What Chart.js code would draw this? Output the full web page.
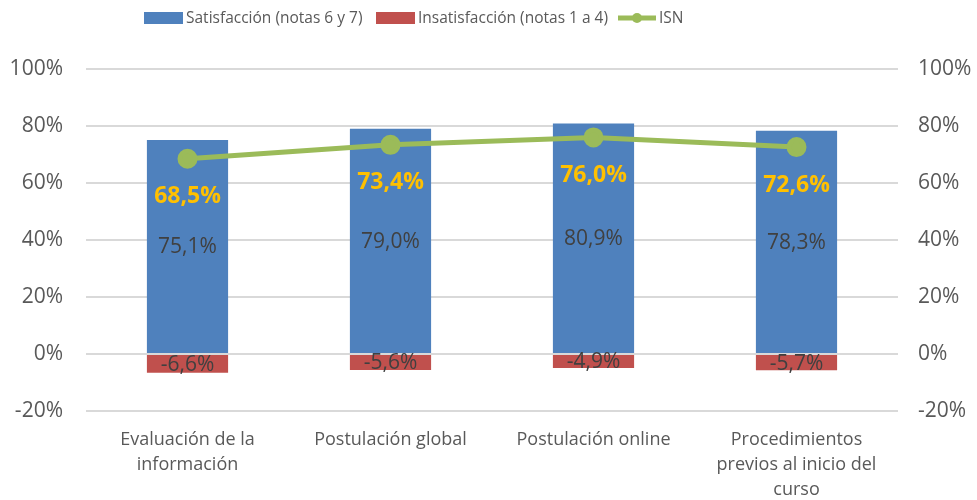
<!DOCTYPE html>
<html>
<head>
<meta charset="utf-8">
<script src="https://cdn.jsdelivr.net/npm/chart.js@4.4.0/dist/chart.umd.min.js"></script>
<style>
  html, body { margin: 0; padding: 0; background: #fff; }
  #wrap { width: 977px; height: 500px; }
</style>
</head>
<body>
<div id="wrap"><canvas id="grafico"></canvas></div>
<script>
// === Datos ===
const categorias = [
    ["Evaluación de la", "información"],
    ["Postulación global"],
    ["Postulación online"],
    ["Procedimientos", "previos al inicio del", "curso"]
];
const satisfaccion = [75.1, 79.0, 80.9, 78.3];
const insatisfaccion = [-6.6, -5.6, -4.9, -5.7];
const isn = [68.5, 73.4, 76.0, 72.6];
const ticksY = [-20, 0, 20, 40, 60, 80, 100];

const FUENTE = '"Open Sans", sans-serif';
const AZUL = '#4F81BD', ROJO = '#C0504D', VERDE = '#9BBB59';
const GRIS = '#595959';

function formatoPct(v) {
    return v.toFixed(1).replace('.', ',') + '%';
}

// === Leyenda propia (estilo Excel) ===
const leyenda = {
    id: 'leyenda',
    afterDraw(chart) {
        const ctx = chart.ctx;
        const items = [
            { tipo: 'rect', color: AZUL, texto: 'Satisfacción (notas 6 y 7)', x: 144 },
            { tipo: 'rect', color: ROJO, texto: 'Insatisfacción (notas 1 a 4)', x: 376 },
            { tipo: 'linea', color: VERDE, texto: 'ISN', x: 618 }
        ];
        const y = 18;
        ctx.save();
        ctx.font = '15.5px ' + FUENTE;
        ctx.textBaseline = 'middle';
        items.forEach(it => {
            let x = it.x;
            if (it.tipo === 'rect') {
                ctx.fillStyle = it.color;
                ctx.fillRect(x, y - 6, 39, 12);
                x += 42;
            } else {
                ctx.strokeStyle = it.color;
                ctx.lineWidth = 5;
                ctx.beginPath();
                ctx.moveTo(x, y);
                ctx.lineTo(x + 38, y);
                ctx.stroke();
                ctx.fillStyle = it.color;
                ctx.beginPath();
                ctx.arc(x + 19, y, 5, 0, Math.PI * 2);
                ctx.fill();
                x += 41;
            }
            ctx.fillStyle = GRIS;
            ctx.textAlign = 'left';
            ctx.fillText(it.texto, x, y + 1);
        });
        ctx.restore();
    }
};

// === Etiquetas de datos ===
const etiquetas = {
    id: 'etiquetas',
    afterDatasetsDraw(chart) {
        const ctx = chart.ctx;
        ctx.save();
        ctx.textAlign = 'center';
        ctx.textBaseline = 'middle';
        chart.data.datasets.forEach((ds, i) => {
            const meta = chart.getDatasetMeta(i);
            meta.data.forEach((el, j) => {
                const v = ds.data[j];
                if (ds.type === 'line') {
                    ctx.font = 'bold 23px ' + FUENTE;
                    ctx.fillStyle = '#FFC000';
                    ctx.fillText(formatoPct(v), el.x, el.y + 38);
                } else {
                    ctx.font = '21px ' + FUENTE;
                    ctx.fillStyle = '#404040';
                    ctx.fillText(formatoPct(v), el.x, (el.y + el.base) / 2 + 1);
                }
            });
        });
        ctx.restore();
    }
};

const ejeY = {
    min: -20, max: 100,
    afterBuildTicks: s => { s.ticks = ticksY.map(v => ({ value: v })); },
    border: { display: false },
    ticks: { color: GRIS, font: { family: FUENTE, size: 21 }, callback: v => v + '%' }
};

new Chart(document.getElementById('grafico'), {
    type: 'bar',
    data: {
        labels: categorias,
        datasets: [
            {
                type: 'line', label: 'ISN', data: isn, yAxisID: 'y1',
                borderColor: VERDE, backgroundColor: VERDE, borderWidth: 5,
                pointRadius: 7.5, pointHoverRadius: 7.5, tension: 0, order: 0
            },
            {
                label: 'Satisfacción (notas 6 y 7)', data: satisfaccion, yAxisID: 'y',
                backgroundColor: AZUL, barPercentage: 0.4, categoryPercentage: 1, order: 1
            },
            {
                label: 'Insatisfacción (notas 1 a 4)', data: insatisfaccion, yAxisID: 'y',
                backgroundColor: ROJO, barPercentage: 0.4, categoryPercentage: 1, order: 1
            }
        ]
    },
    options: {
        responsive: true,
        maintainAspectRatio: false,
        animation: false,
        layout: { padding: { top: 69, left: 0, right: 0, bottom: 0 } },
        plugins: { legend: { display: false }, tooltip: { enabled: false } },
        scales: {
            x: {
                stacked: true,
                grid: { display: false },
                border: { display: false },
                afterFit: s => { s.height = 89; },
                ticks: { color: GRIS, font: { family: FUENTE, size: 18, lineHeight: 1.4 }, padding: 8, maxRotation: 0 }
            },
            y: Object.assign({}, ejeY, {
                position: 'left',
                stacked: true,
                afterFit: s => { s.width = 86; },
                grid: { color: '#D9D9D9', lineWidth: 2, drawTicks: false },
                ticks: Object.assign({}, ejeY.ticks, { padding: 23 })
            }),
            y1: Object.assign({}, ejeY, {
                position: 'right',
                afterFit: s => { s.width = 79; },
                grid: { display: false, drawTicks: false },
                ticks: Object.assign({}, ejeY.ticks, { padding: 20 })
            })
        }
    },
    plugins: [leyenda, etiquetas]
});
</script>
</body>
</html>
